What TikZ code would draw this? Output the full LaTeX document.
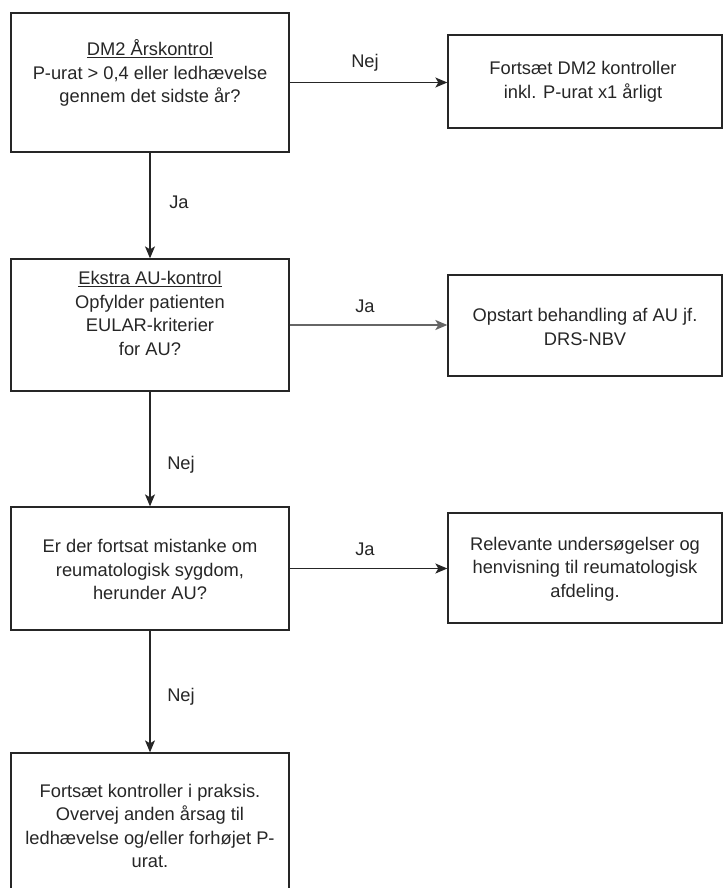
\documentclass[tikz,border=0pt]{standalone}
\usepackage{fontspec}
\setmainfont{Liberation Sans}
\usetikzlibrary{arrows.meta}
\begin{document}
\begin{tikzpicture}[x=1pt,y=-1pt,
  box/.style={draw=black!85, line width=1.3pt, rectangle, inner sep=0pt},
  txt/.style={align=center, font=\fontsize{18.3}{23.5}\selectfont, text=black!85, inner sep=0pt},
  lbl/.style={font=\fontsize{18.3}{23.5}\selectfont, text=black!85, inner sep=0pt},
  arr/.style={line width=1.3pt, draw=black!85, -{Stealth[length=12pt,width=10pt,inset=3pt]}}]
\clip (0,0) rectangle (723,888);
\useasboundingbox (0,0) rectangle (723,888);
% boxes
\node[box, minimum width=278pt, minimum height=139pt] (b1) at (150,82.5) {};
\node[box, minimum width=274pt, minimum height=93pt]  (b2) at (585,81.5) {};
\node[box, minimum width=278pt, minimum height=132pt] (b3) at (150,325) {};
\node[box, minimum width=274pt, minimum height=101pt] (b4) at (585,325.5) {};
\node[box, minimum width=278pt, minimum height=123pt] (b5) at (150,568.5) {};
\node[box, minimum width=274pt, minimum height=110pt] (b6) at (585,568) {};
\node[box, minimum width=278pt, minimum height=146pt] (b7) at (150,826) {};
% texts
\node[txt] (t1) at (150,73) {\underline{DM2 Årskontrol}\\P-urat > 0,4 eller ledhævelse\\gennem det sidste år?};
\node[txt] (t2) at (583,82) {Fortsæt DM2 kontroller\\inkl. P-urat x1 årligt};
\node[txt] (t3) at (150,313.5) {\underline{Ekstra AU-kontrol}\\Opfylder patienten\\EULAR-kriterier\\for AU?};
\node[txt] (t4) at (585,327) {Opstart behandling af AU jf.\\DRS-NBV};
\node[txt] (t5) at (150,569.5) {Er der fortsat mistanke om\\reumatologisk sygdom,\\herunder AU?};
\node[txt] (t6) at (585,569) {Relevante undersøgelser og\\henvisning til reumatologisk\\afdeling.};
\node[txt] (t7) at (150,826) {Fortsæt kontroller i praksis.\\Overvej anden årsag til\\ledhævelse og/eller forhøjet P-\\urat.};
% labels
\node[lbl] (l1) at (365,63) {Nej};
\node[lbl] (l2) at (179,202) {Ja};
\node[lbl] (l3) at (365,306) {Ja};
\node[lbl] (l4) at (181,465) {Nej};
\node[lbl] (l5) at (365,549) {Ja};
\node[lbl] (l6) at (181,697) {Nej};
% connectors
\draw[arr] (b1.east) -- (b2.west |- b1.east);
\draw[arr] (b1.south) -- (b3.north);
\draw[arr, draw=black!60, line width=1.6pt] (b3.east) -- (b4.west |- b3.east);
\draw[arr] (b3.south) -- (b5.north);
\draw[arr] (b5.east) -- (b6.west |- b5.east);
\draw[arr] (b5.south) -- (b7.north);
\end{tikzpicture}
\end{document}
